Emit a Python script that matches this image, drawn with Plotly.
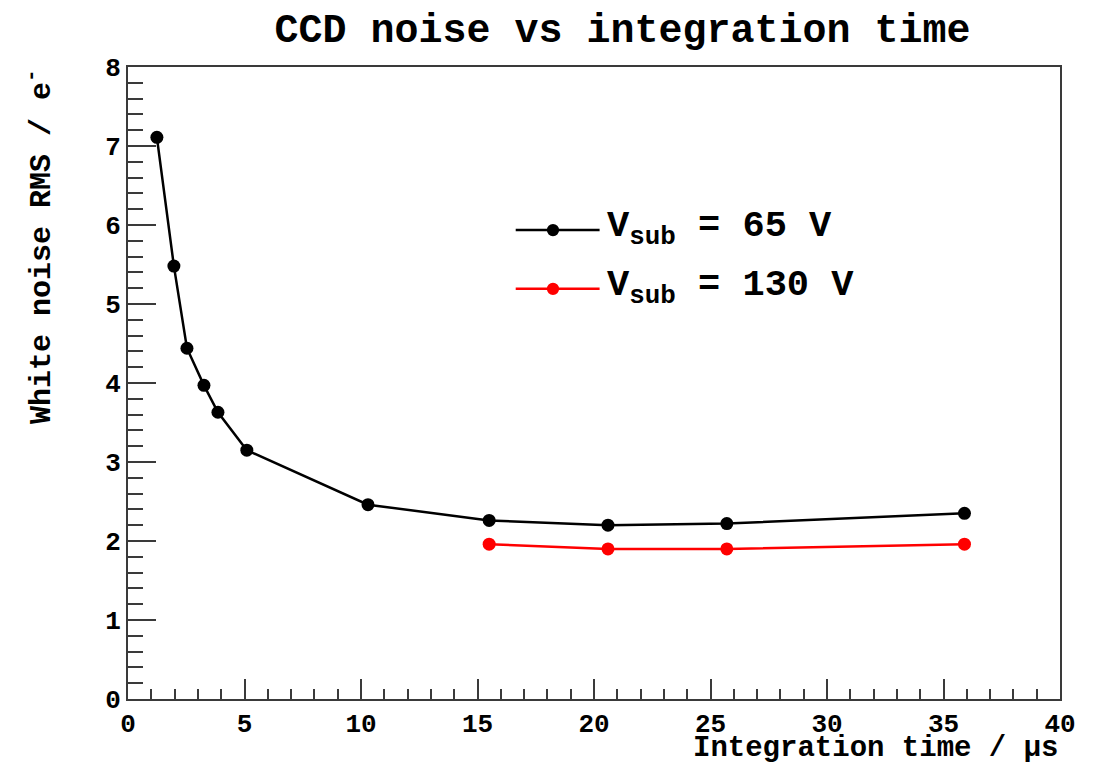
import plotly.graph_objects as go

# Integration time (µs) and white noise RMS (e-) for two substrate voltages
t_65 = [1.24, 1.97, 2.53, 3.26, 3.86, 5.1, 10.3, 15.5, 20.6, 25.7, 35.9]
noise_65 = [7.11, 5.48, 4.44, 3.97, 3.63, 3.15, 2.46, 2.26, 2.20, 2.22, 2.35]
t_130 = [15.5, 20.6, 25.7, 35.9]
noise_130 = [1.96, 1.90, 1.90, 1.96]

labels = ["V<sub>sub</sub> = 65 V", "V<sub>sub</sub> = 130 V"]
colors = ["black", "red"]

FONT = "Liberation Mono, Courier New, monospace"
AXC = "#3a3a3a"

fig = go.Figure()
for xs, ys, c in [(t_65, noise_65, colors[0]), (t_130, noise_130, colors[1])]:
    fig.add_trace(go.Scatter(x=xs, y=ys, mode="lines+markers",
                             line=dict(color=c, width=2.5),
                             marker=dict(color=c, size=13),
                             showlegend=False))

axis_common = dict(showgrid=False, zeroline=False, showline=True, mirror=True,
                   linecolor=AXC, linewidth=2, ticks="inside", tickcolor=AXC,
                   tickwidth=2,
                   tickfont=dict(family=FONT, size=26, color="black", weight="bold"))

fig.update_xaxes(range=[0, 40], dtick=5, ticklen=20,
                 minor=dict(dtick=1, ticks="inside", ticklen=10,
                            tickcolor=AXC, tickwidth=2),
                 **axis_common)
fig.update_yaxes(range=[0, 8], dtick=1, ticklen=28,
                 minor=dict(dtick=0.2, ticks="inside", ticklen=15,
                            tickcolor=AXC, tickwidth=2),
                 **axis_common)

# Legend drawn as line samples with a marker and text
leg_y = [0.742, 0.649]
for lab, c, yy in zip(labels, colors, leg_y):
    fig.add_shape(type="line", xref="paper", yref="paper",
                  x0=0.416, x1=0.506, y0=yy, y1=yy,
                  line=dict(color=c, width=2.5))
    fig.add_shape(type="circle", xref="paper", yref="paper",
                  x0=0.456 - 0.0066, x1=0.456 + 0.0066,
                  y0=yy - 0.0097, y1=yy + 0.0097,
                  fillcolor=c, line=dict(color=c, width=0))
    fig.add_annotation(text=lab, xref="paper", yref="paper", x=0.512, y=yy + 0.002,
                       xanchor="left", yanchor="middle", showarrow=False,
                       font=dict(family=FONT, size=37, color="black", weight="bold"))

fig.add_annotation(text="Integration time / µs", xref="paper", yref="paper",
                   x=1.0, y=-0.078, xanchor="right", yanchor="middle",
                   showarrow=False,
                   font=dict(family=FONT, size=29, color="black", weight="bold"))
fig.add_annotation(text="White noise RMS / e<sup>-</sup>", xref="paper", yref="paper",
                   x=-0.095, y=1.0, xanchor="center", yanchor="top",
                   textangle=-90, showarrow=False,
                   font=dict(family=FONT, size=30, color="black", weight="bold"))

fig.update_layout(
    width=1094, height=764,
    margin=dict(l=128, r=34, t=67, b=65),
    paper_bgcolor="white", plot_bgcolor="white",
    title=dict(text="CCD noise vs integration time", x=0.569, xanchor="center",
               y=0.963, yanchor="middle",
               font=dict(family=FONT, size=40, color="black", weight="bold")),
)

fig.write_html("out.html")
